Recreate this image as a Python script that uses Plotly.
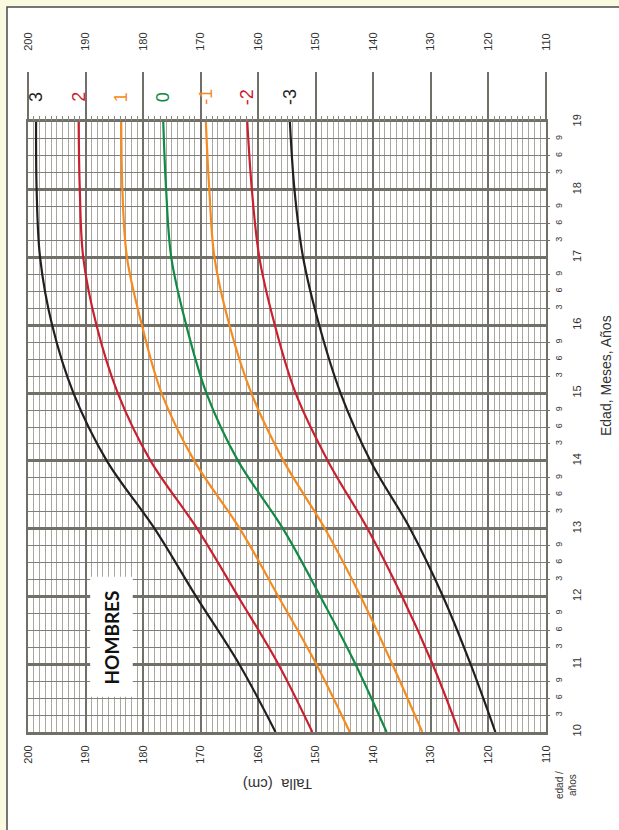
import plotly.graph_objects as go

# ---- data ----
AGE = [10, 11, 12, 13, 14, 15, 16, 17, 18, 19]
SD_P3 = [157.0, 163.3, 170.8, 178.0, 186.3, 192.1, 195.8, 197.9, 198.5, 198.6]
SD_P2 = [150.6, 156.5, 163.5, 170.6, 178.7, 184.4, 188.1, 190.4, 191.0, 191.2]
SD_P1 = [144.1, 149.9, 156.5, 163.2, 171.1, 176.8, 180.2, 182.8, 183.6, 183.8]
SD_0 = [137.7, 143.1, 149.2, 155.7, 163.5, 169.0, 172.5, 175.1, 176.0, 176.5]
SD_M1 = [131.5, 136.7, 142.2, 148.4, 155.6, 161.2, 165.0, 167.6, 168.5, 169.1]
SD_M2 = [125.1, 129.7, 135.0, 141.0, 147.9, 153.5, 157.1, 159.8, 161.1, 161.9]
SD_M3 = [118.8, 123.1, 127.9, 133.6, 140.5, 145.7, 149.4, 152.2, 153.7, 154.5]

SERIES = [("3", SD_P3, "#231f20"), ("2", SD_P2, "#c9202f"), ("1", SD_P1, "#f58a1f"),
          ("0", SD_0, "#128a44"), ("-1", SD_M1, "#f58a1f"), ("-2", SD_M2, "#c9202f"),
          ("-3", SD_M3, "#231f20")]

TALLA_TICKS = [110, 120, 130, 140, 150, 160, 170, 180, 190, 200]
YEAR_TICKS = [10, 11, 12, 13, 14, 15, 16, 17, 18, 19]
MONTH_LABELS = ["3", "6", "9"]

FONT = "Liberation Sans, Arial, sans-serif"
GRID_DARK = "#707068"
GRID_LIGHT = "#a8a8a0"

fig = go.Figure()
for name, vals, col in SERIES:
    fig.add_trace(go.Scatter(x=vals, y=AGE, mode="lines", line=dict(color=col, width=2.2, shape="spline"),
                             name=name, showlegend=False, hoverinfo="skip"))
# dummy trace to activate secondary axes
fig.add_trace(go.Scatter(x=[None], y=[None], xaxis="x2", yaxis="y2", showlegend=False, hoverinfo="skip"))

month_vals, month_text = [], []
for yr in YEAR_TICKS[:-1]:
    for i, m in enumerate(MONTH_LABELS):
        month_vals.append(yr + (i + 1) * 0.25)
        month_text.append(m)

W, H = 619, 830
L, R, T, B = 28, 73, 122, 98
pw, ph = W - L - R, H - T - B

def px(x):
    return (x - L) / pw

def py(y):
    return (H - B - y) / ph

fig.update_layout(
    width=W, height=H,
    margin=dict(l=L, r=R, t=T, b=B, pad=0),
    paper_bgcolor="#fafae1", plot_bgcolor="white",
    font=dict(family=FONT, color="#333333"),
    xaxis=dict(range=[200, 110], tickvals=TALLA_TICKS, tickangle=-90, ticks="",
               tickfont=dict(size=11, color="#333"), showgrid=True, gridcolor=GRID_DARK, gridwidth=1.8,
               minor=dict(dtick=1, tick0=110, showgrid=True, gridcolor=GRID_LIGHT, gridwidth=1),
               showline=True, linecolor=GRID_DARK, linewidth=3, mirror=True, zeroline=False,
               ticklabelstandoff=6),
    xaxis2=dict(range=[200, 110], overlaying="x", side="top", anchor="y", tickvals=TALLA_TICKS,
                tickangle=-90, ticks="outside", ticklen=49, tickwidth=1.5, tickcolor=GRID_DARK,
                tickfont=dict(size=11, color="#333"), showgrid=False, zeroline=False,
                minor=dict(dtick=1, tick0=110, ticks="outside", ticklen=5, tickcolor="#8a8a84",
                           tickwidth=1, showgrid=False),
                ticklabelstandoff=19),
    yaxis=dict(range=[10, 19], side="right", tickvals=YEAR_TICKS, tickangle=-90, ticks="",
               tickfont=dict(size=11, color="#333"), showgrid=True, gridcolor=GRID_DARK, gridwidth=3,
               minor=dict(dtick=0.25, tick0=10, showgrid=True, gridcolor="#808078", gridwidth=1),
               showline=True, linecolor=GRID_DARK, linewidth=1.8, mirror=True, zeroline=False,
               ticklabelstandoff=20),
    yaxis2=dict(range=[10, 19], overlaying="y", side="right", anchor="x", tickvals=month_vals,
                ticktext=month_text, tickangle=-90, ticks="outside", ticklen=3, tickcolor=GRID_DARK,
                tickfont=dict(size=9, color="#333"), showgrid=False, zeroline=False,
                ticklabelstandoff=1),
    shapes=[
        dict(type="rect", xref="paper", yref="paper", x0=px(7), x1=px(640), y0=py(850), y1=py(7),
             fillcolor="white", line=dict(color="#4a4a4a", width=1.5), layer="below"),
        dict(type="rect", xref="x", yref="y", x0=189.2, x1=181.8, y0=10.52, y1=12.29,
             fillcolor="white", line=dict(width=0), layer="above"),
    ],
)

ann = []
for name, vals, col in SERIES:
    ann.append(dict(x=vals[-1], xref="x", y=py(97), yref="paper", text=name, showarrow=False,
                    textangle=-90, xanchor="center", yanchor="middle",
                    font=dict(size=18, color=col, family=FONT)))
ann.append(dict(x=185.5, xref="x", y=11.4, yref="y", text="<b>HOMBRES</b>", showarrow=False,
                textangle=-90, xanchor="center", yanchor="middle",
                font=dict(size=19, color="#111", family="Lato, DejaVu Sans, sans-serif")))
ann.append(dict(x=px(278), xref="paper", y=py(785), yref="paper", text="Talla  (cm)", showarrow=False,
                textangle=180, xanchor="center", yanchor="middle",
                font=dict(size=15, color="#333", family=FONT)))
ann.append(dict(x=px(606), xref="paper", y=py(376), yref="paper", text="Edad, Meses, Años", showarrow=False,
                textangle=-90, xanchor="center", yanchor="middle",
                font=dict(size=14, color="#333", family=FONT)))
ann.append(dict(x=px(566), xref="paper", y=py(785), yref="paper", text="edad /<br>años", showarrow=False,
                textangle=-90, xanchor="center", yanchor="middle",
                font=dict(size=10, color="#333", family=FONT)))
fig.update_layout(annotations=ann)

fig.write_html("out.html", config={"displayModeBar": False},
               post_script="document.body.style.margin='0';document.body.style.background='#fafae1';")
